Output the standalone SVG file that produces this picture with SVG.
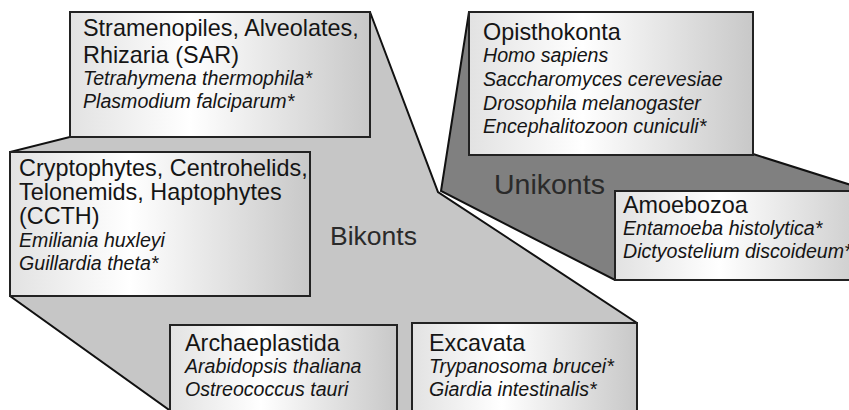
<svg xmlns="http://www.w3.org/2000/svg" width="849" height="410" viewBox="0 0 849 410">
<defs>
<linearGradient id="boxgrad" x1="0" y1="0" x2="1" y2="0">
<stop offset="0" stop-color="#e2e2e2"/>
<stop offset="0.4" stop-color="#ffffff"/>
<stop offset="1" stop-color="#c8c8c8"/>
</linearGradient>
</defs>
<style>
.box{fill:url(#boxgrad);stroke:#222;stroke-width:2}
.bik{fill:#c6c6c6;stroke:#111;stroke-width:2;stroke-linejoin:miter}
.uni{fill:#808080;stroke:#111;stroke-width:2}
.t{font-family:"Liberation Sans",Arial,sans-serif;font-size:23.4px;fill:#151515}
.i{font-family:"Liberation Sans",Arial,sans-serif;font-size:19.6px;font-style:italic;fill:#151515}
.big{font-family:"Liberation Sans",Arial,sans-serif;fill:#2a2a2a}
</style>
<g id="connectors">
<polygon id="bikonts-area" class="bik" points="370,12 438,192 637,323 637,430 172,430 172,412 10,296 10,152 70,137 70,12"/>
<polygon id="unikonts-area" class="uni" points="469,12 441,191 615,280 870,280 870,191 753,154 753,12"/>
</g>
<text class="big" x="330" y="245" font-size="26.5">Bikonts</text>
<text class="big" x="494" y="194" font-size="28.5">Unikonts</text>
<g id="sar">
<rect class="box" x="70" y="12" width="300" height="125"/>
<text class="t" x="83" y="36">Stramenopiles, Alveolates,</text>
<text class="t" x="83" y="63">Rhizaria (SAR)</text>
<text class="i" x="83" y="85">Tetrahymena thermophila*</text>
<text class="i" x="83" y="108">Plasmodium falciparum*</text>
</g>
<g id="ccth">
<rect class="box" x="10" y="152" width="300" height="144"/>
<text class="t" x="19" y="176">Cryptophytes, Centrohelids,</text>
<text class="t" x="19" y="200">Telonemids, Haptophytes</text>
<text class="t" x="19" y="224">(CCTH)</text>
<text class="i" x="19" y="247">Emiliania huxleyi</text>
<text class="i" x="19" y="270">Guillardia theta*</text>
</g>
<g id="opisthokonta">
<rect class="box" x="469" y="12" width="284" height="143"/>
<text class="t" x="483" y="40">Opisthokonta</text>
<text class="i" x="483" y="62">Homo sapiens</text>
<text class="i" x="483" y="86">Saccharomyces cerevesiae</text>
<text class="i" x="483" y="110">Drosophila melanogaster</text>
<text class="i" x="483" y="133">Encephalitozoon cuniculi*</text>
</g>
<g id="amoebozoa">
<rect class="box" x="615" y="191" width="260" height="89"/>
<text class="t" x="623" y="213">Amoebozoa</text>
<text class="i" x="623" y="235">Entamoeba histolytica*</text>
<text class="i" x="623" y="258">Dictyostelium discoideum*</text>
</g>
<g id="archaeplastida">
<rect class="box" x="170" y="325" width="227" height="90"/>
<text class="t" x="185" y="351">Archaeplastida</text>
<text class="i" x="185" y="373">Arabidopsis thaliana</text>
<text class="i" x="185" y="396">Ostreococcus tauri</text>
</g>
<g id="excavata">
<rect class="box" x="412" y="323" width="225" height="92"/>
<text class="t" x="429" y="351">Excavata</text>
<text class="i" x="429" y="373">Trypanosoma brucei*</text>
<text class="i" x="429" y="396">Giardia intestinalis*</text>
</g>
</svg>
